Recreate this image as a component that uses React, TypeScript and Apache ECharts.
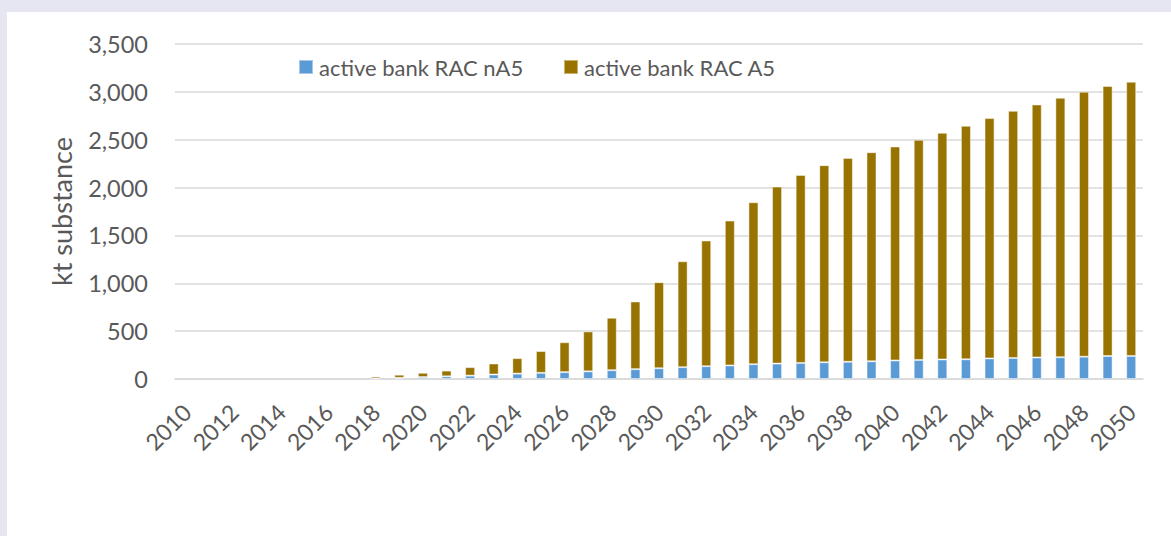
import React, { useEffect, useRef } from "react";
import * as echarts from "echarts";

const years: string[] = [
  "2010", "2011", "2012", "2013", "2014", "2015", "2016", "2017", "2018", "2019",
  "2020", "2021", "2022", "2023", "2024", "2025", "2026", "2027", "2028", "2029",
  "2030", "2031", "2032", "2033", "2034", "2035", "2036", "2037", "2038", "2039",
  "2040", "2041", "2042", "2043", "2044", "2045", "2046", "2047", "2048", "2049", "2050",
];

const nA5: number[] = [
  0, 0, 0, 0, 0, 0, 0, 0, 5, 12,
  20, 28, 35, 47, 56, 64, 72, 80, 92, 103,
  113, 124, 134, 142, 155, 161, 168, 175, 180, 185,
  194, 199, 204, 206, 215, 220, 225, 228, 233, 240, 241,
];

const A5: number[] = [
  0, 0, 0, 0, 0, 0, 0, 0, 20, 33,
  45, 60, 89, 115, 162, 228, 312, 417, 548, 707,
  899, 1106, 1313, 1513, 1692, 1849, 1964, 2059, 2130, 2185,
  2235, 2300, 2368, 2439, 2511, 2582, 2643, 2710, 2768, 2821, 2865,
];

const seriesNames: string[] = ["active bank RAC nA5", "active bank RAC A5"];
const colors: string[] = ["#5b9bd5", "#997300"];

const FONT = "Lato, 'Noto Sans', sans-serif";
const TEXT = "#595959";

// zero values are drawn as empty (no bar outline)
const toBars = (arr: number[]) => arr.map((v) => (v === 0 ? "-" : v));

export default function App() {
  const ref = useRef<HTMLDivElement>(null);

  useEffect(() => {
    document.body.style.margin = "0";
    if (!ref.current) return;
    const chart = echarts.init(ref.current, null, { renderer: "svg" });
    const legendBase = {
      top: 44,
      padding: 0,
      itemWidth: 14,
      itemHeight: 14,
      icon: "rect",
      itemGap: 0,
      textStyle: { color: TEXT, fontSize: 22, fontFamily: FONT, padding: [0, 0, 0, 1] },
    };
    chart.setOption({
      animation: false,
      backgroundColor: "#ffffff",
      textStyle: { fontFamily: FONT },
      legend: [
        { ...legendBase, left: 291, data: [seriesNames[0]] },
        { ...legendBase, left: 556, data: [seriesNames[1]] },
      ],
      grid: { left: 168, right: 28, top: 32, bottom: 157, containLabel: false },
      xAxis: {
        type: "category",
        data: years,
        axisLine: { show: true, lineStyle: { color: "#d9d9d9", width: 1.5 } },
        axisTick: { show: false },
        axisLabel: {
          interval: 1,
          rotate: 45,
          margin: 29,
          color: TEXT,
          fontSize: 23,
          fontFamily: FONT,
        },
      },
      yAxis: {
        type: "value",
        min: 0,
        max: 3500,
        interval: 500,
        name: "kt substance",
        nameLocation: "middle",
        nameRotate: 90,
        nameGap: 100,
        nameTextStyle: { color: TEXT, fontSize: 27, fontFamily: FONT },
        axisLine: { show: false },
        axisTick: { show: false },
        splitLine: { lineStyle: { color: "#d9d9d9", width: 1.5 } },
        axisLabel: {
          margin: 27,
          color: TEXT,
          fontSize: 23.5,
          fontFamily: FONT,
          formatter: (v: number) => v.toLocaleString("en-US"),
        },
      },
      series: [
        {
          name: seriesNames[0],
          type: "bar",
          stack: "total",
          data: toBars(nA5),
          barWidth: 10,
          itemStyle: { color: colors[0], borderColor: "rgba(255,255,255,0.45)", borderWidth: 1 },
        },
        {
          name: seriesNames[1],
          type: "bar",
          stack: "total",
          data: toBars(A5),
          barWidth: 10,
          itemStyle: { color: colors[1], borderColor: "rgba(255,255,255,0.45)", borderWidth: 1 },
        },
      ],
    });
    return () => chart.dispose();
  }, []);

  return (
    <div style={{ position: "relative", width: 1171, height: 536, background: "#e6e6f2", overflow: "hidden" }}>
      <div
        ref={ref}
        style={{ position: "absolute", left: 7, top: 12, width: 1164, height: 524, background: "#ffffff" }}
      />
    </div>
  );
}
